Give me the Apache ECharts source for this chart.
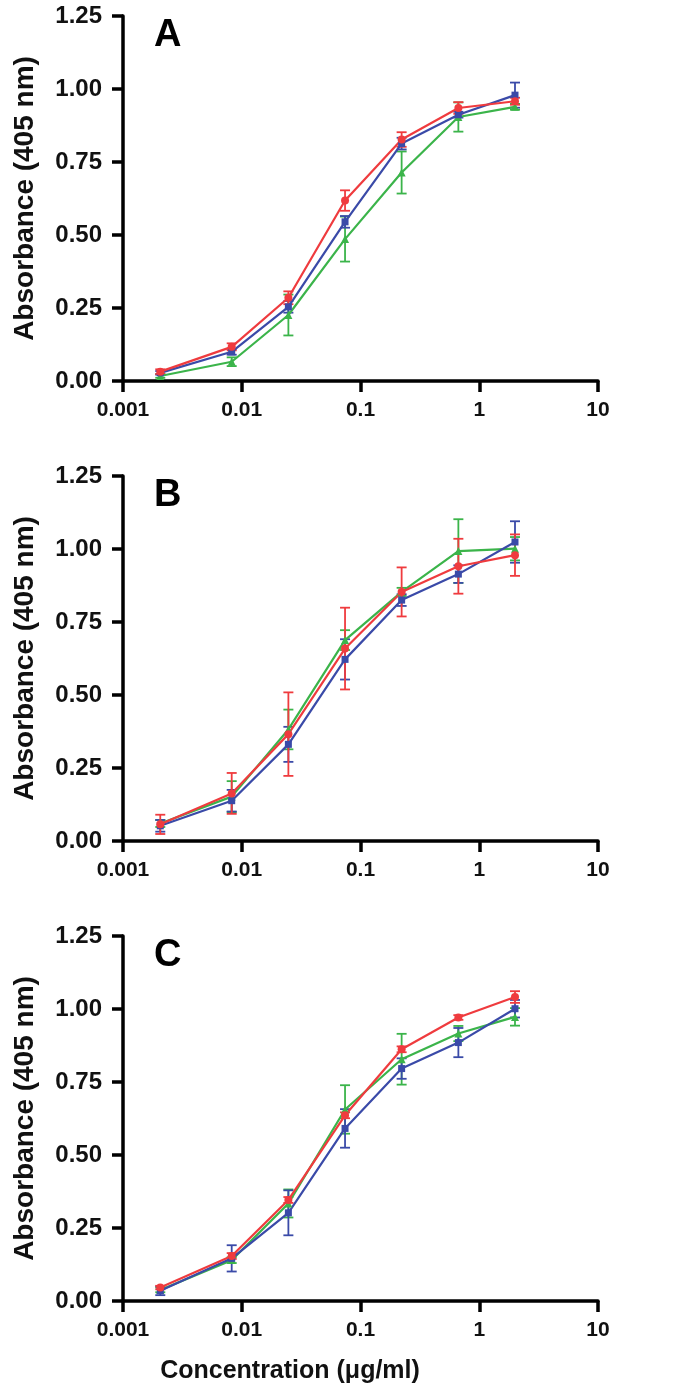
<!DOCTYPE html>
<html>
<head>
<meta charset="utf-8">
<script src="https://cdn.jsdelivr.net/npm/echarts@6/dist/echarts.min.js"></script>
<style>
html,body{margin:0;padding:0;background:#fff;}
#chart{width:700px;height:1399px;}
</style>
</head>
<body>
<div id="chart"></div>
<script>
// Concentrations (µg/ml)
const conc = [0.00206, 0.00823, 0.0247, 0.0741, 0.222, 0.667, 2.0];
const yTicks = [0, 0.25, 0.5, 0.75, 1.0, 1.25];
const xTickLabels = ['0.001', '0.01', '0.1', '1', '10'];
const panelLabels = ['A', 'B', 'C'];

// Panel A
const redA = [0.032, 0.117, 0.285, 0.618, 0.827, 0.935, 0.958];
const redAErr = [0.008, 0.012, 0.022, 0.035, 0.025, 0.020, 0.012];
const blueA = [0.028, 0.100, 0.254, 0.545, 0.813, 0.912, 0.979];
const blueAErr = [0.006, 0.010, 0.020, 0.020, 0.020, 0.010, 0.043];
const greenA = [0.017, 0.066, 0.226, 0.486, 0.714, 0.904, 0.939];
const greenAErr = [0.006, 0.015, 0.070, 0.077, 0.072, 0.050, 0.010];

// Panel B
const redB = [0.057, 0.163, 0.366, 0.659, 0.853, 0.941, 0.979];
const redBErr = [0.033, 0.070, 0.143, 0.140, 0.084, 0.094, 0.071];
const blueB = [0.052, 0.138, 0.331, 0.622, 0.825, 0.914, 1.024];
const blueBErr = [0.020, 0.037, 0.060, 0.069, 0.020, 0.030, 0.071];
const greenB = [0.060, 0.152, 0.382, 0.688, 0.853, 0.993, 1.001];
const greenBErr = [0.012, 0.053, 0.068, 0.034, 0.014, 0.109, 0.040];

// Panel C
const redC = [0.046, 0.154, 0.346, 0.636, 0.862, 0.971, 1.041];
const redCErr = [0.006, 0.010, 0.010, 0.010, 0.010, 0.008, 0.020];
const blueC = [0.035, 0.146, 0.302, 0.591, 0.796, 0.885, 1.001];
const blueCErr = [0.015, 0.045, 0.077, 0.066, 0.035, 0.050, 0.030];
const greenC = [0.038, 0.140, 0.334, 0.656, 0.828, 0.916, 0.973];
const greenCErr = [0.008, 0.010, 0.048, 0.083, 0.087, 0.026, 0.030];

const RED = '#ef3b3e', BLUE = '#3a4aa8', GREEN = '#3bb44a';
const FONT = "'Liberation Sans', Arial, sans-serif";

const panels = [
  {green: [greenA, greenAErr], blue: [blueA, blueAErr], red: [redA, redAErr]},
  {green: [greenB, greenBErr], blue: [blueB, blueBErr], red: [redB, redBErr]},
  {green: [greenC, greenCErr], blue: [blueC, blueCErr], red: [redC, redCErr]}
];
const gridTops = [16, 476, 936];
const gridH = 365;

const grids = [], xAxes = [], yAxes = [], series = [], graphics = [];

function errRender(params, api) {
  const x = api.value(0), y = api.value(1), e = api.value(2);
  const lo = api.coord([x, y - e]);
  const hi = api.coord([x, y + e]);
  const c = api.visual('color');
  const w = 5;
  const st = {stroke: c, lineWidth: 1.8};
  return {
    type: 'group',
    children: [
      {type: 'line', shape: {x1: lo[0], y1: lo[1], x2: hi[0], y2: hi[1]}, style: st},
      {type: 'line', shape: {x1: lo[0] - w, y1: lo[1], x2: lo[0] + w, y2: lo[1]}, style: st},
      {type: 'line', shape: {x1: hi[0] - w, y1: hi[1], x2: hi[0] + w, y2: hi[1]}, style: st}
    ]
  };
}

panels.forEach((p, i) => {
  grids.push({left: 123, right: 102, top: gridTops[i], height: gridH, containLabel: false});
  xAxes.push({
    gridIndex: i, type: 'log', logBase: 10, min: 0.001, max: 10,
    axisLine: {show: true, lineStyle: {color: '#000', width: 3.5}},
    axisTick: {show: true, length: 11, lineStyle: {color: '#000', width: 3.5}},
    minorTick: {show: false},
    splitLine: {show: false},
    axisLabel: {
      margin: 19, color: '#111', fontSize: 21, fontWeight: 'bold', fontFamily: FONT,
      formatter: v => {
        const k = Math.round(Math.log10(v)) + 3;
        return xTickLabels[k] !== undefined ? xTickLabels[k] : '';
      }
    }
  });
  yAxes.push({
    gridIndex: i, type: 'value', min: 0, max: 1.25, interval: 0.25,
    name: 'Absorbance (405 nm)', nameLocation: 'middle', nameGap: 84, nameRotate: 90,
    nameTextStyle: {color: '#111', fontSize: 28, fontWeight: 'bold', fontFamily: FONT},
    axisLine: {show: true, lineStyle: {color: '#000', width: 3.5}},
    axisTick: {show: true, length: 11, lineStyle: {color: '#000', width: 3.5}},
    splitLine: {show: false},
    axisLabel: {
      margin: 21, color: '#111', fontSize: 24, fontWeight: 'bold', fontFamily: FONT,
      formatter: v => {
        const idx = yTicks.findIndex(t => Math.abs(t - v) < 1e-9);
        return idx >= 0 ? yTicks[idx].toFixed(2) : '';
      }
    }
  });
  const defs = [
    {key: 'green', color: GREEN, symbol: 'triangle', size: 8},
    {key: 'blue', color: BLUE, symbol: 'rect', size: 7},
    {key: 'red', color: RED, symbol: 'circle', size: 8}
  ];
  defs.forEach(d => {
    const vals = p[d.key][0], errs = p[d.key][1];
    series.push({
      type: 'custom', xAxisIndex: i, yAxisIndex: i,
      itemStyle: {color: d.color},
      data: conc.map((c, k) => [c, vals[k], errs[k]]),
      encode: {x: 0, y: 1},
      renderItem: errRender, z: 2, silent: true
    });
    series.push({
      type: 'line', xAxisIndex: i, yAxisIndex: i,
      data: conc.map((c, k) => [c, vals[k]]),
      symbol: d.symbol, symbolSize: d.size, showSymbol: true,
      lineStyle: {color: d.color, width: 2.2},
      itemStyle: {color: d.color},
      z: 3, animation: false
    });
  });
  graphics.push({
    type: 'text', left: 154, top: gridTops[i] + 1,
    style: {text: panelLabels[i], fill: '#000', font: "bold 38px 'Liberation Sans', Arial, sans-serif"}
  });
});

graphics.push({
  type: 'text', x: 290, y: 1359,
  style: {text: 'Concentration (μg/ml)', fill: '#111', textAlign: 'center', textVerticalAlign: 'top',
    font: "bold 25px 'Liberation Sans', Arial, sans-serif"}
});

const chart = echarts.init(document.getElementById('chart'), null, {renderer: 'canvas'});
chart.setOption({
  animation: false,
  backgroundColor: '#fff',
  grid: grids,
  xAxis: xAxes,
  yAxis: yAxes,
  series: series,
  graphic: graphics
});
</script>
</body>
</html>
